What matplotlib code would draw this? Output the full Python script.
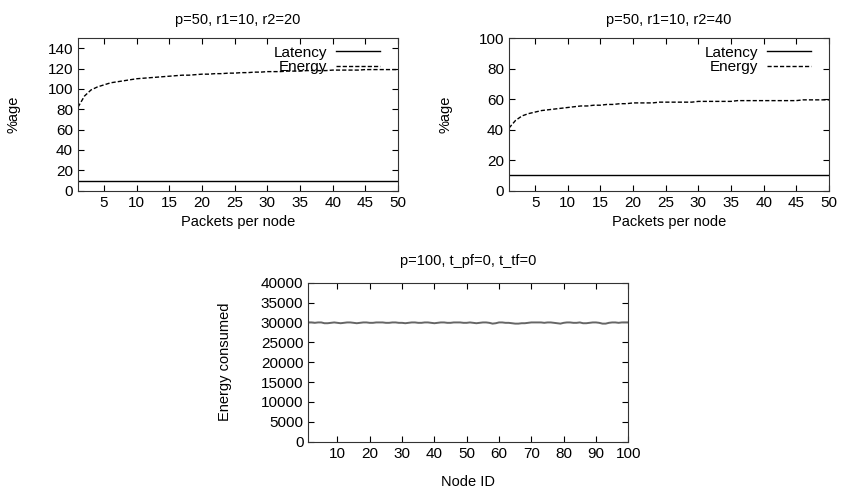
import numpy as np
import matplotlib
matplotlib.use("Agg")
import matplotlib.pyplot as plt

plt.rcParams['font.family'] = ['Liberation Sans', 'DejaVu Sans']
plt.rcParams['font.size'] = 10.5

# -----------------------------
# Data
# -----------------------------
packets = np.arange(1, 51)

latency_r20 = [10] * 50
energy_r20 = [82, 93, 99, 102, 104, 106, 107, 108, 109, 110,
              110.5, 111, 111.5, 112, 112.5, 113, 113.5, 113.5, 114, 114.5,
              114.5, 115, 115, 115.5, 115.5, 116, 116, 116.5, 116.5, 117,
              117, 117, 117.5, 117.5, 117.5, 118, 118, 118, 118, 118.5,
              118.5, 118.5, 118.5, 118.5, 119, 119, 119, 119, 119, 119]

latency_r40 = [10] * 50
energy_r40 = [41, 46, 49, 50.5, 51.5, 52.5, 53, 53.5, 54, 54.5,
              55, 55.5, 55.5, 56, 56, 56.5, 56.5, 57, 57, 57.5,
              57.5, 57.5, 57.5, 58, 58, 58, 58, 58, 58, 58.5,
              58.5, 58.5, 58.5, 58.5, 58.5, 59, 59, 59, 59, 59,
              59, 59, 59, 59, 59, 59.5, 59.5, 59.5, 59.5, 59.5]

node_id = np.arange(1, 101)
energy_nodes = [30000, 30000, 29900, 30000, 30000, 29800, 29800, 29900, 30000, 29900,
                29800, 29900, 30000, 30000, 29900, 29800, 29900, 30000, 30000, 29900,
                29900, 30000, 30000, 30000, 29900, 29900, 30000, 30000, 29900, 29900,
                29800, 29900, 30000, 30000, 29900, 29900, 30000, 30000, 29900, 29800,
                29900, 30000, 30000, 29900, 29900, 30000, 30000, 30000, 29900, 29900,
                30000, 29900, 29800, 29900, 30000, 30000, 29900, 29700, 29800, 30000,
                30000, 29900, 29900, 29800, 29700, 29700, 29800, 29800, 29900, 30000,
                30000, 30000, 30000, 29900, 30000, 30000, 29900, 29800, 29700, 29900,
                30000, 30000, 29900, 29900, 30000, 29800, 29800, 29900, 30000, 30000,
                29900, 29700, 29700, 29900, 30000, 30000, 29900, 30000, 30000, 30000]

# -----------------------------
# Figure
# -----------------------------
fig = plt.figure(figsize=(8.41, 4.9), dpi=100)
ax1 = fig.add_axes([0.0927, 0.6108, 0.3805, 0.3116])
ax2 = fig.add_axes([0.6052, 0.6108, 0.3805, 0.3116])
ax3 = fig.add_axes([0.3666, 0.0986, 0.3805, 0.3245])


def style(ax):
    ax.tick_params(direction='in', length=4, width=0.8, top=True, right=True,
                   pad=3.5, labelsize=11)
    for s in ax.spines.values():
        s.set_linewidth(0.8)
        s.set_color('#333333')


for ax, lat, en, title, ymax, yticks, ylx in [
        (ax1, latency_r20, energy_r20, "p=50, r1=10, r2=20", 150, range(0, 141, 20), -0.181),
        (ax2, latency_r40, energy_r40, "p=50, r1=10, r2=40", 100, range(0, 101, 20), -0.175)]:
    ax.plot(packets, lat, color='black', lw=1.0, label='Latency')
    ax.plot(packets, en, color='black', lw=1.0, ls=(0, (3, 1.5)), label='Energy')
    ax.set_xlim(1, 50)
    ax.set_ylim(0, ymax)
    ax.set_xticks(range(5, 51, 5))
    ax.set_yticks(list(yticks))
    ax.set_title(title, fontsize=10.5, pad=10)
    ax.set_xlabel("Packets per node")
    ax.xaxis.set_label_coords(0.5, -0.16)
    ax.set_ylabel("%age")
    ax.yaxis.set_label_coords(ylx, 0.5)
    ax.legend(loc='upper right', bbox_to_anchor=(0.945, 0.95), frameon=False,
              markerfirst=False, handlelength=2.9, handletextpad=0.6,
              labelspacing=0.05, borderaxespad=0, borderpad=0, fontsize=11)
    style(ax)

ax3.plot(node_id, energy_nodes, color='#666666', lw=1.4)
ax3.set_xlim(1, 100)
ax3.set_ylim(0, 40000)
ax3.set_xticks(range(10, 101, 10))
ax3.set_yticks(range(0, 40001, 5000))
ax3.set_title("p=100, t_pf=0, t_tf=0", fontsize=10.5, pad=13)
ax3.set_xlabel("Node ID")
ax3.xaxis.set_label_coords(0.5, -0.209)
ax3.set_ylabel("Energy consumed")
ax3.yaxis.set_label_coords(-0.238, 0.5)
style(ax3)

plt.savefig("out.png", dpi=100)
